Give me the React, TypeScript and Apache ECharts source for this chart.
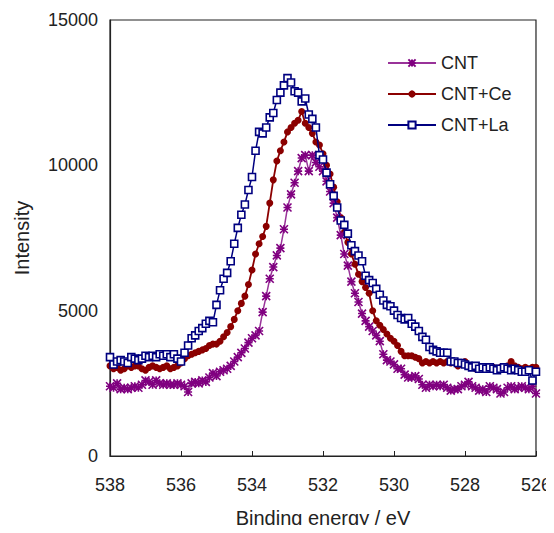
import React, { useEffect, useRef } from "react";
import * as echarts from "echarts";

const energies = [
  538.0, 537.9, 537.8, 537.7, 537.6, 537.5, 537.4, 537.3, 537.2, 537.1,
  537.0, 536.9, 536.8, 536.7, 536.6, 536.5, 536.4, 536.3, 536.2, 536.1,
  536.0, 535.9, 535.8, 535.7, 535.6, 535.5, 535.4, 535.3, 535.2, 535.1,
  535.0, 534.9, 534.8, 534.7, 534.6, 534.5, 534.4, 534.3, 534.2, 534.1,
  534.0, 533.9, 533.8, 533.7, 533.6, 533.5, 533.4, 533.3, 533.2, 533.1,
  533.0, 532.9, 532.8, 532.7, 532.6, 532.5, 532.4, 532.3, 532.2, 532.1,
  532.0, 531.9, 531.8, 531.7, 531.6, 531.5, 531.4, 531.3, 531.2, 531.1,
  531.0, 530.9, 530.8, 530.7, 530.6, 530.5, 530.4, 530.3, 530.2, 530.1,
  530.0, 529.9, 529.8, 529.7, 529.6, 529.5, 529.4, 529.3, 529.2, 529.1,
  529.0, 528.9, 528.8, 528.7, 528.6, 528.5, 528.4, 528.3, 528.2, 528.1,
  528.0, 527.9, 527.8, 527.7, 527.6, 527.5, 527.4, 527.3, 527.2, 527.1,
  527.0, 526.9, 526.8, 526.7, 526.6, 526.5, 526.4, 526.3, 526.2, 526.1,
  526.0,
];

const cnt = [
  2400, 2350, 2500, 2300, 2350, 2300, 2350, 2400, 2350, 2450,
  2600, 2550, 2450, 2600, 2500, 2450, 2500, 2450, 2450, 2500,
  2450, 2400, 2200, 2500, 2550, 2500, 2600, 2550, 2700, 2850,
  2750, 2900, 2950, 3000, 3100, 3250, 3400, 3550, 3700, 3900,
  4050, 4150, 4300, 4950, 5500, 6100, 6500, 6900, 7150, 7800,
  8550, 9000, 9400, 9800, 10250, 10350, 9800, 10350, 10100, 9950,
  9800, 9450, 9100, 8700, 8200, 7600, 6950, 6550, 6000, 5600,
  5300, 4900, 4650, 4450, 4300, 4150, 3950, 3500, 3300, 3250,
  3150, 3000, 3000, 2800, 2700, 2700, 2750, 2650, 2450, 2350,
  2450, 2400, 2450, 2400, 2450, 2350, 2250, 2300, 2300, 2400,
  2450, 2550, 2400, 2350, 2250, 2300, 2200, 2400, 2350, 2300,
  2150, 2200, 2350, 2400, 2300, 2350, 2400, 2350, 2300, 2400,
  2150,
];

const cntCe = [
  3100, 3000, 3050, 2950, 3000, 3100, 3050, 3100, 3100, 3000,
  2950, 3050, 3100, 3050, 3000, 3050, 3100, 3000, 3050, 3100,
  3200, 3350, 3450, 3500, 3550, 3600, 3650, 3700, 3800, 3850,
  3850, 3950, 4100, 4250, 4450, 4700, 5000, 5250, 5500, 5900,
  6400, 6950, 7300, 7550, 7900, 8700, 9500, 10150, 10500, 10800,
  11150, 11300, 11450, 11550, 11850, 11450, 11300, 11100, 10800, 10700,
  10400, 10000, 9700, 9250, 8750, 8200, 7700, 7350, 6950, 6600,
  6250, 6000, 5800, 5600, 5000, 4650, 4500, 4350, 4200, 4050,
  3950, 3800, 3600, 3450, 3450, 3450, 3400, 3350, 3200, 3250,
  3200, 3250, 3200, 3250, 3200, 3250, 3200, 3250, 3100, 3200,
  3250, 3100, 3050, 3000, 3050, 3000, 3050, 3000, 3050, 3000,
  3050, 3000, 3100, 3250, 3100, 3050, 3000, 3050, 3000, 3050,
  3050,
];

const cntLa = [
  3400, 3150, 3250, 3300, 3250, 3200, 3400, 3350, 3300, 3350,
  3450, 3400, 3450, 3400, 3500, 3450, 3500, 3400, 3500, 3350,
  3250, 3550, 3800, 4050, 4150, 4300, 4400, 4550, 4650, 4600,
  5200, 5700, 6100, 6300, 6700, 7300, 7850, 8300, 8650, 9150,
  9600, 10500, 11150, 11100, 11300, 11650, 11800, 12250, 12500, 12750,
  13000, 12850, 12550, 12500, 12200, 12300, 11750, 11600, 11300, 10350,
  10200, 9750, 9350, 8950, 8550, 8100, 7950, 7650, 7250, 7050,
  6900, 6700, 6200, 6050, 5950, 5750, 5550, 5350, 5200, 5150,
  5000, 4850, 4750, 4700, 4750, 4550, 4450, 4300, 4100, 4000,
  3750, 3650, 3600, 3550, 3550, 3550, 3250, 3250, 3200, 3200,
  3150, 3100, 3050, 3100, 3000, 3050, 3000, 3050, 3000, 2950,
  3000, 3050, 3000, 2950, 3000, 2950, 2900, 2900, 2950, 2600,
  2900,
];

const seriesNames = ["CNT", "CNT+Ce", "CNT+La"];
const yTicks = [0, 5000, 10000, 15000];
const xTicks = [538, 536, 534, 532, 530, 528, 526];

const FONT = "'Liberation Sans', Arial, sans-serif";
const ASTERISK = "path://M0,0L10,10M10,0L0,10M5,0L5,10M0,5L10,5";

export default function App() {
  const ref = useRef<HTMLDivElement>(null);
  useEffect(() => {
    if (!ref.current) return;
    const chart = echarts.init(ref.current, null, { renderer: "svg" });
    const pair = (vals: number[]) => energies.map((e, i) => [e, vals[i]]);
    chart.setOption({
      animation: false,
      backgroundColor: "#fff",
      textStyle: { fontFamily: FONT },
      grid: {
        left: 110,
        right: 14,
        top: 20,
        bottom: 72,
        show: true,
        borderColor: "#222",
        borderWidth: 1.2,
      },
      legend: {
        orient: "vertical",
        left: 382,
        top: 49,
        itemWidth: 48,
        itemHeight: 9,
        itemGap: 13,
        data: seriesNames,
        textStyle: { fontFamily: FONT, fontSize: 18, color: "#222" },
      },
      xAxis: {
        type: "value",
        inverse: true,
        min: xTicks[xTicks.length - 1],
        max: xTicks[0],
        interval: 2,
        name: "Binding energy / eV",
        nameLocation: "middle",
        nameGap: 52,
        nameTextStyle: { fontFamily: FONT, fontSize: 20, color: "#222" },
        axisLine: { onZero: false, lineStyle: { color: "#222", width: 1.2 } },
        axisTick: { show: true, inside: true, length: 5, lineStyle: { color: "#222" } },
        axisLabel: { fontFamily: FONT, fontSize: 18, color: "#222", margin: 20 },
        splitLine: { show: false },
      },
      yAxis: {
        type: "value",
        min: yTicks[0],
        max: yTicks[yTicks.length - 1],
        interval: 5000,
        name: "Intensity",
        nameLocation: "middle",
        nameRotate: 90,
        nameGap: 78,
        nameTextStyle: { fontFamily: FONT, fontSize: 20, color: "#222" },
        axisLine: { show: true, lineStyle: { color: "#222", width: 1.2 } },
        axisTick: { show: false },
        axisLabel: {
          fontFamily: FONT,
          fontSize: 18,
          color: "#222",
          margin: 12,
          formatter: (v: number) => String(v),
        },
        splitLine: { show: false },
      },
      series: [
        {
          name: seriesNames[0],
          type: "line",
          data: pair(cnt),
          symbol: ASTERISK,
          symbolSize: 8,
          lineStyle: { color: "#993399", width: 1.5 },
          itemStyle: { color: "#800080", borderColor: "#800080", borderWidth: 1.6 },
          z: 3,
        },
        {
          name: seriesNames[1],
          type: "line",
          data: pair(cntCe),
          symbol: "circle",
          symbolSize: 7,
          lineStyle: { color: "#8b0000", width: 1.8 },
          itemStyle: { color: "#8b0000", borderColor: "#8b0000", borderWidth: 0 },
          z: 2,
        },
        {
          name: seriesNames[2],
          type: "line",
          data: pair(cntLa),
          symbol: "rect",
          symbolSize: 7,
          lineStyle: { color: "#000080", width: 1.5 },
          itemStyle: { color: "#ffffff", borderColor: "#000080", borderWidth: 1.6 },
          z: 4,
        },
      ],
    });
    return () => chart.dispose();
  }, []);
  return <div ref={ref} style={{ width: 554, height: 533, margin: -8 }} />;
}
